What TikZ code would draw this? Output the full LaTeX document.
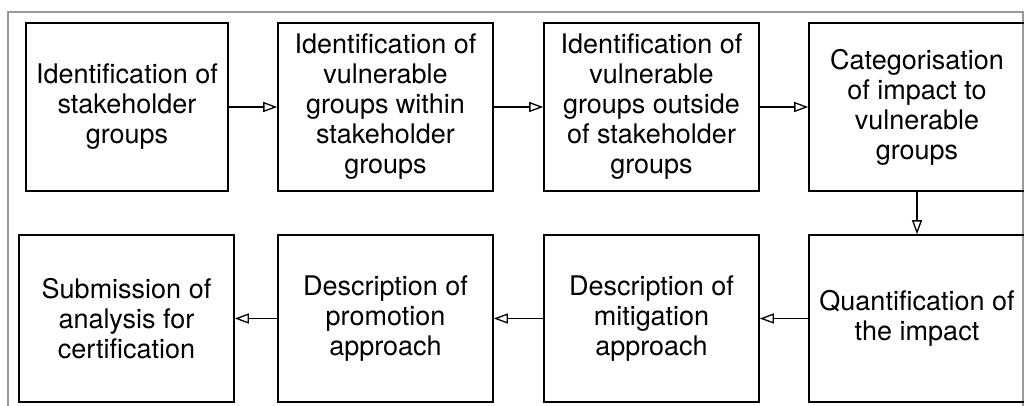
\documentclass[tikz,border=0pt]{standalone}
\usepackage{fontspec}
\setmainfont{TeX Gyre Heros}
\usetikzlibrary{arrows.meta}
\definecolor{framegray}{HTML}{999999}
\tikzset{
  stepbox/.style={draw=black, line width=1.6pt, inner sep=0pt, align=center,
    font=\fontsize{27}{30}\selectfont},
  flow/.style={line width=1.3pt, -{Triangle[open, length=14pt, width=10pt, line width=1.3pt]}}
}
\begin{document}
\begin{tikzpicture}[x=1pt, y=1pt]
\useasboundingbox (0,0) rectangle (1024,405);
\draw[framegray, line width=2pt] (8,-5) -- (8,393) -- (1023,393) -- (1023,-5);
% top row
\node[stepbox, minimum width=202pt, minimum height=168pt] (b1) at (127,298) {Identification of\\stakeholder\\groups};
\node[stepbox, minimum width=215pt, minimum height=168pt] (b2) at (385.5,298) {Identification of\\vulnerable\\groups within\\stakeholder\\groups};
\node[stepbox, minimum width=215pt, minimum height=168pt] (b3) at (651.5,298) {Identification of\\vulnerable\\groups outside\\of stakeholder\\groups};
\node[stepbox, minimum width=216pt, minimum height=168pt] (b4) at (917,298) {Categorisation\\of impact to\\vulnerable\\groups};
% bottom row
\node[stepbox, minimum width=216pt, minimum height=167pt] (b5) at (917,86.5) {Quantification of\\the impact};
\node[stepbox, minimum width=215pt, minimum height=167pt] (b6) at (651.5,86.5) {Description of\\mitigation\\approach};
\node[stepbox, minimum width=215pt, minimum height=167pt] (b7) at (385.5,86.5) {Description of\\promotion\\approach};
\node[stepbox, minimum width=215pt, minimum height=167pt] (b8) at (126.5,86.5) {Submission of\\analysis for\\certification};
% connectors
\draw[flow] (b1) -- (b2);
\draw[flow] (b2) -- (b3);
\draw[flow] (b3) -- (b4);
\draw[flow] (b4) -- (b5);
\draw[flow] (b5) -- (b6);
\draw[flow] (b6) -- (b7);
\draw[flow] (b7) -- (b8);
\end{tikzpicture}
\end{document}
